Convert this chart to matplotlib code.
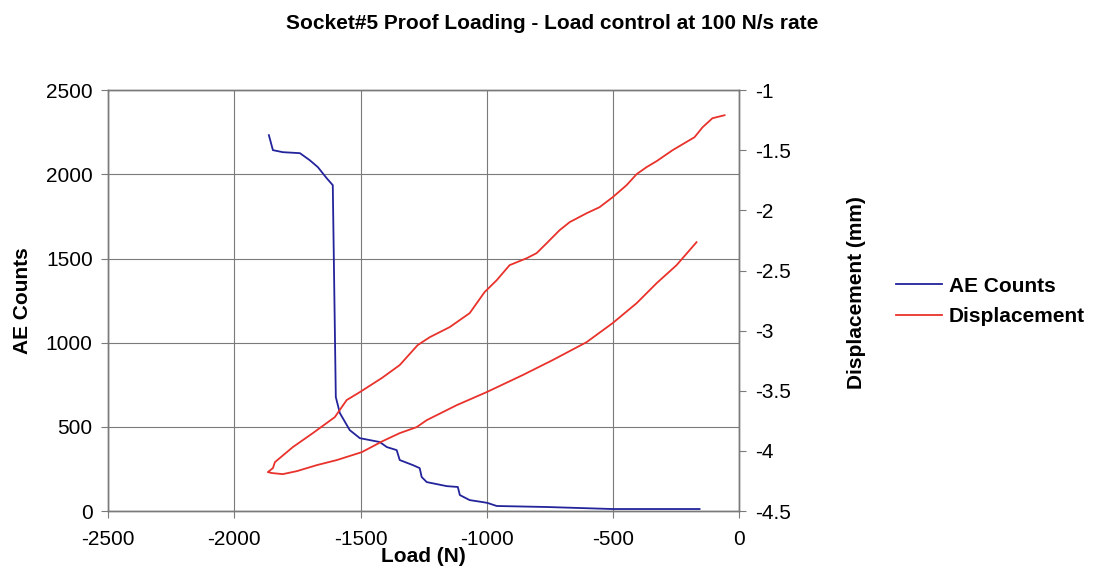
import matplotlib
matplotlib.use('Agg')
import matplotlib.pyplot as plt
from matplotlib.lines import Line2D

plt.rcParams['font.family'] = ['Liberation Sans', 'DejaVu Sans']
plt.rcParams['axes.unicode_minus'] = False

# AE counts vs load
ae_load = [-1863, -1847, -1808, -1740, -1701, -1669, -1634, -1610, -1598, -1582,
           -1543, -1503, -1424, -1396, -1357, -1345, -1293, -1266, -1258, -1238,
           -1159, -1115, -1107, -1068, -1016, -997, -961, -763, -502, -158]
ae_counts = [2233, 2144, 2132, 2126, 2084, 2043, 1977, 1936, 677, 582,
             481, 433, 410, 380, 362, 303, 273, 255, 202, 172,
             148, 143, 95, 65, 53, 48, 30, 24, 12, 12]

# displacement vs load: loading branch then unloading branch
disp_load = [-59, -107, -146, -178, -265, -328, -368, -407, -447, -502,
             -554, -605, -672, -712, -763, -803, -842, -910, -961, -1009,
             -1068, -1147, -1226, -1274, -1345, -1416, -1503, -1555, -1602, -1689,
             -1768, -1839, -1847, -1867,
             -1851, -1808, -1752, -1673, -1594, -1495, -1412, -1345, -1278, -1238,
             -1119, -1001, -858, -740, -605, -502, -407, -328, -249, -170]
disp_mm = [-1.208, -1.233, -1.308, -1.391, -1.499, -1.590, -1.640, -1.698, -1.790, -1.890,
           -1.973, -2.023, -2.097, -2.164, -2.272, -2.355, -2.397, -2.455, -2.580, -2.679,
           -2.854, -2.970, -3.054, -3.120, -3.286, -3.394, -3.511, -3.577, -3.719, -3.852,
           -3.968, -4.093, -4.143, -4.176,
           -4.184, -4.193, -4.168, -4.118, -4.076, -4.010, -3.918, -3.852, -3.802, -3.744,
           -3.619, -3.511, -3.369, -3.245, -3.095, -2.937, -2.771, -2.605, -2.455, -2.264]

x_ticks = [-2500, -2000, -1500, -1000, -500, 0]
y_ticks = [0, 500, 1000, 1500, 2000, 2500]
y2_ticks = [-4.5, -4, -3.5, -3, -2.5, -2, -1.5, -1]

blue = '#23239b'
red = '#e8322b'
grey = '#7a7a7a'
fs = 15

fig = plt.figure(figsize=(11.04, 5.71), dpi=100)
ax = fig.add_axes([0.0978, 0.105, 0.572, 0.737])
ax2 = ax.twinx()

ax.plot(ae_load, ae_counts, color=blue, linewidth=1.3)
ax2.plot(disp_load, disp_mm, color=red, linewidth=1.3)

ax.set_xlim(-2500, 0)
ax.set_ylim(0, 2500)
ax2.set_ylim(-4.5, -1)
ax.set_xticks(x_ticks)
ax.set_yticks(y_ticks)
ax2.set_yticks(y2_ticks)
ax2.set_yticklabels([f'{v:g}' for v in y2_ticks])

ax.grid(True, color=grey, linewidth=0.8)
ax.set_axisbelow(True)
for a in (ax, ax2):
    for s in a.spines.values():
        s.set_color(grey)
        s.set_linewidth(1.0)
    a.tick_params(colors=grey, labelcolor='black', labelsize=fs, length=5, width=0.8, pad=6)
ax.tick_params(axis='x', pad=9)

ax.set_xlabel('Load (N)', fontsize=fs, fontweight='bold')
ax.xaxis.set_label_coords(0.5, -0.085)
ax.set_ylabel('AE Counts', fontsize=fs, fontweight='bold')
ax.yaxis.set_label_coords(-0.12, 0.5)
ax2.set_ylabel('Displacement (mm)', fontsize=fs, fontweight='bold')
ax2.yaxis.set_label_coords(1.17, 0.52)

fig.suptitle('Socket#5 Proof Loading - Load control at 100 N/s rate',
             fontsize=fs, fontweight='bold', x=0.5, y=0.975)

handles = [Line2D([], [], color=blue, linewidth=1.3),
           Line2D([], [], color=red, linewidth=1.3)]
leg = fig.legend(handles, ['AE Counts', 'Displacement'], loc='center left',
                 bbox_to_anchor=(0.812, 0.472), frameon=False, fontsize=fs,
                 handlelength=2.2, handletextpad=0.3, labelspacing=0.55,
                 borderpad=0, borderaxespad=0)
for t in leg.get_texts():
    t.set_fontweight('bold')

fig.savefig('out.png')
